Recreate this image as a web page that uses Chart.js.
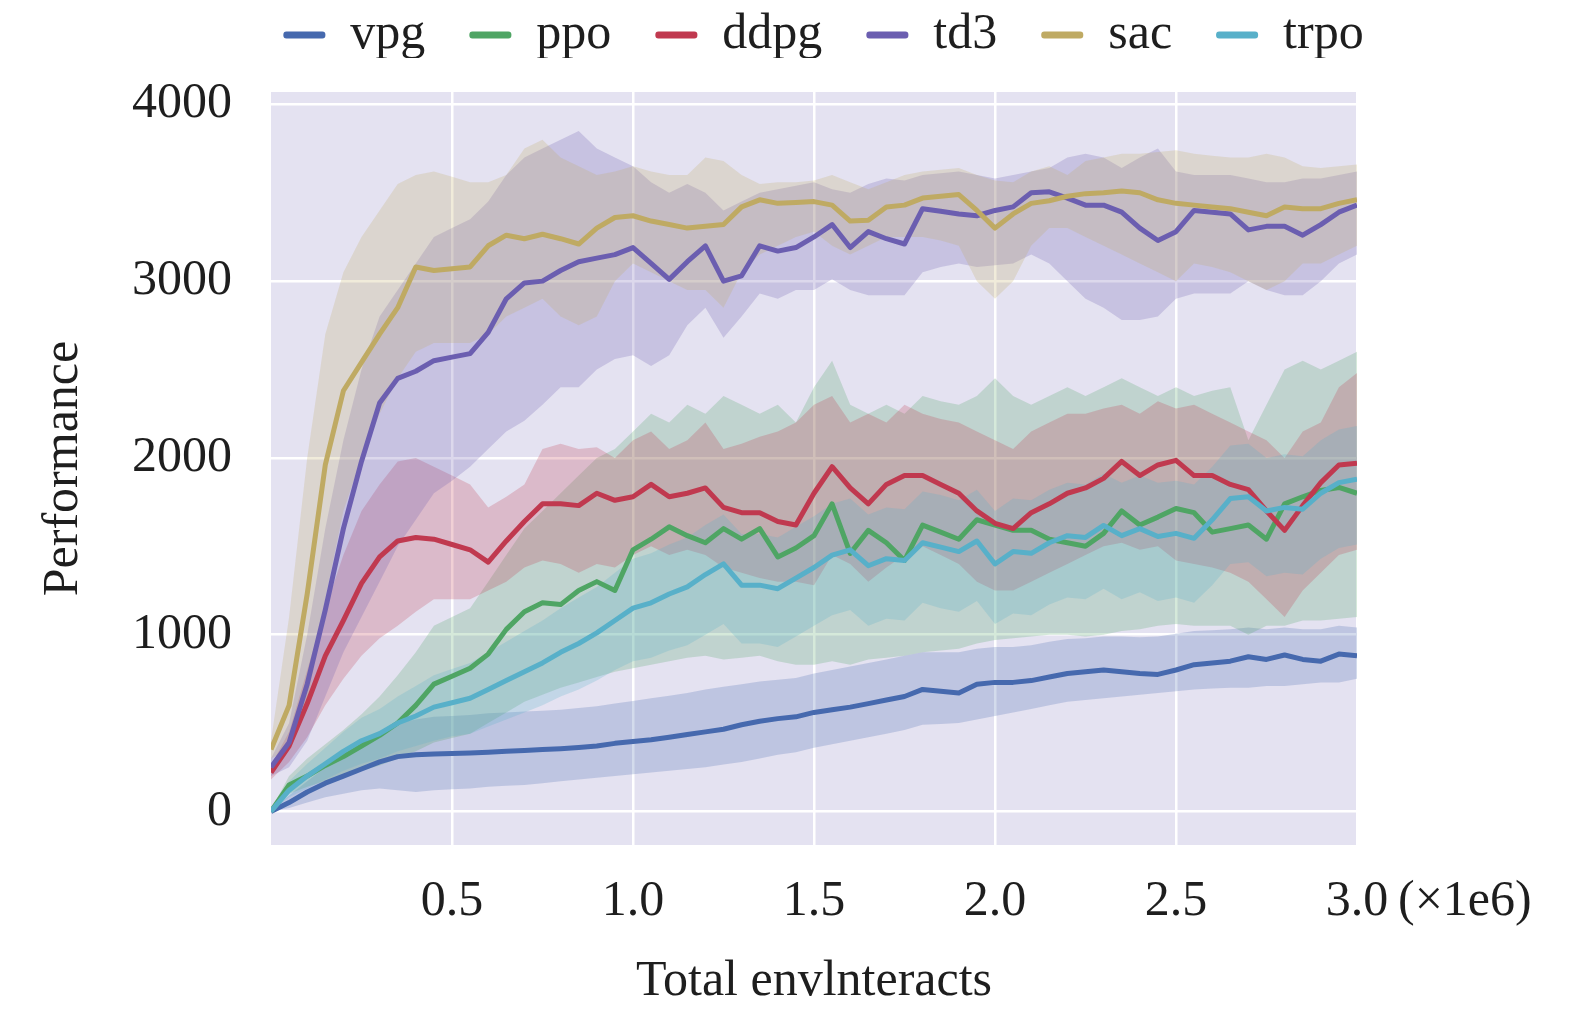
<!DOCTYPE html>
<html lang="en">
  <head>
    <meta charset="UTF-8" />
    <title>Performance</title>
    <style>
      body {
        margin: 0;
        background: #ffffff;
      }
      .plot {
        width: 1575px;
        height: 1018px;
      }
    </style>
  </head>
  <body>
    <div class="plot">
      <canvas id="mychart" width="1575" height="1018"></canvas>
    </div>

    <script src="https://cdn.jsdelivr.net/npm/chart.js@4.4.1/dist/chart.umd.min.js"></script>
    <script>
      // x axis, in units of 1e6 interactions
      const steps = [
        0, 0.05, 0.1, 0.15, 0.2, 0.25, 0.3, 0.35, 0.4, 0.45,
        0.5, 0.55, 0.6, 0.65, 0.7, 0.75, 0.8, 0.85, 0.9, 0.95,
        1.0, 1.05, 1.1, 1.15, 1.2, 1.25, 1.3, 1.35, 1.4, 1.45,
        1.5, 1.55, 1.6, 1.65, 1.7, 1.75, 1.8, 1.85, 1.9, 1.95,
        2.0, 2.05, 2.1, 2.15, 2.2, 2.25, 2.3, 2.35, 2.4, 2.45,
        2.5, 2.55, 2.6, 2.65, 2.7, 2.75, 2.8, 2.85, 2.9, 2.95,
        3.0,
      ];
      const xTicks = [0, 0.5, 1.0, 1.5, 2.0, 2.5, 3.0];
      const yTicks = [0, 1000, 2000, 3000, 4000];
      const algos = ["vpg", "ppo", "ddpg", "td3", "sac", "trpo"];

      // vpg
      const vpgMean = [
        0, 50, 110, 160, 200, 240, 280, 310, 320, 325,
        327, 330, 335, 340, 345, 350, 355, 362, 370, 385,
        395, 405, 420, 435, 450, 465, 490, 510, 525, 535,
        560, 575, 590, 610, 630, 650, 690, 680, 670, 720,
        730, 730, 740, 760, 780, 790, 800, 790, 780, 775,
        800, 830, 840, 850, 875, 860, 885, 860, 850, 890,
        880,
      ];
      const vpgUpper = [
        10, 90, 170, 250, 320, 390, 450, 500, 520, 535,
        540, 545, 555, 560, 565, 570, 575, 585, 595, 610,
        625, 640, 655, 670, 690, 705, 720, 735, 745, 755,
        780, 800, 820, 840, 860, 880, 900, 900, 900, 920,
        930, 930, 940, 960, 975, 980, 990, 990, 985, 990,
        1005, 1020, 1025, 1030, 1040, 1030, 1040, 1030, 1030, 1050,
        1040,
      ];
      const vpgLower = [
        0, 20, 50, 80, 100, 120, 130, 120, 110, 120,
        125, 130, 140, 145, 150, 160, 170, 180, 190, 200,
        210, 220, 230, 240, 250, 265, 280, 300, 320, 335,
        360, 380, 400, 420, 440, 460, 490, 495, 500, 520,
        540, 560, 580, 600, 620, 630, 640, 650, 660, 670,
        680, 690, 695, 700, 700, 710, 710, 720, 730, 730,
        750,
      ];

      // ppo
      const ppoMean = [
        0, 150, 200, 260, 310, 370, 430, 500, 600, 720,
        765, 810, 890, 1030, 1130, 1180, 1170, 1250, 1300, 1250,
        1480, 1540, 1610, 1560, 1520, 1600, 1540, 1600, 1440, 1490,
        1560, 1740, 1460, 1590, 1520, 1420, 1620, 1580, 1540, 1650,
        1620, 1590, 1590, 1540, 1520, 1500, 1573, 1700, 1620, 1665,
        1714, 1690, 1580, 1600, 1620, 1540, 1740, 1780, 1816, 1833,
        1800,
      ];
      const ppoUpper = [
        10, 200, 300, 380, 460, 550, 650, 770, 900, 1050,
        1100, 1150, 1300, 1450, 1600, 1700, 1800, 1900, 2000, 2050,
        2150, 2250, 2200, 2300, 2250, 2350, 2300, 2250, 2300, 2200,
        2400, 2550, 2300, 2250, 2300, 2250, 2350, 2320, 2300, 2350,
        2450, 2350, 2300, 2350, 2400, 2350, 2400, 2450, 2400, 2350,
        2400, 2350, 2380, 2400, 2100, 2300, 2500, 2550, 2500, 2550,
        2600,
      ];
      const ppoLower = [
        0, 100, 140, 170, 200, 230, 260, 300, 340, 390,
        415, 440, 500, 560, 620, 660, 700, 730, 760, 790,
        810, 830, 850, 870, 880, 860, 870, 880, 850, 830,
        830, 850, 830, 860, 870, 880, 900, 910, 920, 950,
        970, 980, 990, 1000, 1000, 990, 1000, 1020, 1030, 1050,
        1060, 1050, 1050, 1050, 1000, 1050, 1050, 1080, 1080, 1090,
        1100,
      ];

      // ddpg
      const ddpgMean = [
        220, 370, 610, 880, 1080, 1290, 1440, 1530, 1550, 1540,
        1510, 1480, 1410, 1530, 1640, 1740, 1740, 1730, 1800, 1760,
        1780, 1850, 1780, 1800, 1830, 1720, 1690, 1690, 1640, 1620,
        1800, 1950, 1830, 1740, 1850, 1900, 1900, 1850, 1800, 1700,
        1630, 1600, 1690, 1740, 1800, 1830, 1884, 1980, 1900, 1960,
        1986, 1900, 1900, 1850, 1820, 1700, 1590, 1730, 1860, 1960,
        1970,
      ];
      const ddpgUpper = [
        260, 450, 800, 1150, 1450, 1700, 1850, 1980, 2000, 1950,
        1900, 1850, 1720, 1780, 1850, 2050, 2080, 2050, 2060, 2000,
        2100, 2150, 2050, 2100, 2200, 2050, 2080, 2120, 2150, 2200,
        2300, 2350, 2200, 2250, 2200, 2300, 2250, 2220, 2200, 2150,
        2100, 2050, 2150, 2200, 2250, 2250, 2280, 2300, 2250, 2320,
        2280, 2300, 2250, 2200, 2150, 2100, 2000, 2150, 2200, 2400,
        2480,
      ];
      const ddpgLower = [
        180, 280, 420, 600, 750, 880, 980, 1050, 1130, 1200,
        1200, 1200, 1250, 1300, 1380, 1420, 1400, 1350, 1400, 1380,
        1450, 1500, 1450, 1480, 1450, 1380, 1350, 1320, 1300, 1300,
        1280, 1450, 1400, 1300, 1380, 1450, 1500, 1450, 1400, 1300,
        1250, 1250, 1300, 1350, 1400, 1450, 1500, 1520, 1480, 1500,
        1420, 1400, 1380, 1350, 1300, 1200, 1100, 1250, 1350, 1450,
        1480,
      ];

      // td3
      const td3Mean = [
        250, 390, 720, 1140, 1600, 1980, 2310, 2450, 2490, 2550,
        2570, 2590, 2710, 2900, 2990, 3000, 3060, 3110, 3130, 3150,
        3190, 3100, 3010, 3110, 3200, 3000, 3030, 3200, 3170, 3190,
        3250, 3320, 3190, 3280, 3240, 3210, 3410, 3395, 3380, 3370,
        3400, 3420, 3500, 3505, 3470, 3430, 3430, 3390, 3300, 3230,
        3280, 3400, 3390, 3380, 3290, 3310, 3310, 3260, 3320, 3390,
        3430,
      ];
      const td3Upper = [
        300, 500, 1000, 1600, 2100, 2500, 2800, 2950, 3100, 3250,
        3300, 3350, 3450, 3600, 3700, 3750, 3800, 3850, 3750, 3700,
        3650, 3560, 3500, 3550, 3500, 3400, 3450, 3500, 3520, 3540,
        3560, 3520, 3500, 3550, 3580, 3570, 3600, 3610, 3620, 3600,
        3580, 3600, 3620, 3640, 3700, 3720, 3700, 3640, 3700, 3750,
        3620, 3600, 3600, 3600, 3580, 3560, 3560, 3580, 3580, 3600,
        3620,
      ];
      const td3Lower = [
        200, 250, 400, 650, 900, 1100, 1300, 1500, 1650, 1800,
        1870, 1950, 2050, 2150, 2210, 2300, 2400, 2400, 2500, 2560,
        2580, 2520, 2580, 2750, 2850, 2680, 2800, 2930, 2900, 2950,
        2950, 3010, 2950, 2920, 2920, 2920, 3050, 3080, 3100, 3080,
        3090, 3100, 3150, 3100, 3000, 2900, 2850, 2780, 2780, 2800,
        2900, 2930, 2930, 2930, 3000, 2950, 2920, 2920, 3000, 3100,
        3150,
      ];

      // sac
      const sacMean = [
        350, 600, 1230, 1960, 2380, 2540, 2700, 2850, 3080, 3060,
        3070, 3080, 3200, 3260, 3240, 3265, 3240, 3210, 3300, 3360,
        3370, 3340, 3320, 3300, 3310, 3320, 3420, 3460, 3440, 3445,
        3450, 3430, 3340, 3345, 3420, 3430, 3470, 3480, 3490, 3400,
        3300, 3380, 3440, 3455, 3480, 3495, 3500, 3510, 3500, 3460,
        3440, 3430, 3420, 3410, 3390, 3370, 3420, 3410, 3410, 3440,
        3460,
      ];
      const sacUpper = [
        400, 1100, 2000, 2700, 3050, 3250, 3400, 3550, 3600, 3620,
        3590, 3560, 3560, 3600, 3750, 3800, 3700, 3650, 3600, 3620,
        3650, 3620, 3600, 3600, 3700, 3680, 3600, 3550, 3560, 3560,
        3570, 3600, 3560, 3520, 3560, 3600, 3620, 3630, 3640, 3600,
        3570, 3560, 3620, 3650, 3600, 3680, 3700, 3720, 3720, 3730,
        3740, 3720, 3710, 3700, 3700, 3720, 3700, 3650, 3640, 3650,
        3660,
      ];
      const sacLower = [
        300, 350, 600, 1200, 1700, 2000, 2250, 2450, 2600, 2650,
        2650, 2650, 2700, 2800, 2850, 2900, 2800, 2750, 2800, 3000,
        3100, 3050, 3000, 2950, 2950, 2850, 3050, 3150, 3200, 3250,
        3280, 3200, 3150, 3200, 3250, 3250, 3250, 3230, 3200, 3000,
        2900, 3000, 3200, 3300, 3300, 3250, 3200, 3150, 3100, 3050,
        3000, 3100, 3080, 3050, 3000, 2950, 3000, 3100, 3100, 3150,
        3200,
      ];

      // trpo
      const trpoMean = [
        0, 120, 200, 270, 340, 400, 440, 500, 540, 590,
        615, 640, 690, 740, 790, 840, 900, 950, 1010, 1080,
        1150, 1180, 1230, 1270, 1340, 1400, 1280, 1280, 1260, 1320,
        1380, 1450, 1480, 1390, 1430, 1420, 1520, 1495, 1470, 1530,
        1400, 1470, 1460, 1520, 1560, 1550, 1618, 1560, 1600, 1555,
        1573, 1545, 1650, 1770, 1780, 1700, 1720, 1710, 1800, 1860,
        1880,
      ];
      const trpoUpper = [
        10, 170, 270, 360, 450, 530, 580, 650, 710, 770,
        805, 840, 900, 960, 1020, 1080, 1150, 1210, 1270, 1350,
        1430, 1460, 1510, 1550, 1620, 1680, 1570, 1570, 1550, 1610,
        1670, 1740, 1770, 1680, 1720, 1710, 1810, 1790, 1760, 1820,
        1700, 1770, 1760, 1820, 1860, 1850, 1910, 1860, 1900, 1860,
        1870, 1850, 1950, 2070, 2080, 2000, 2020, 2010, 2100, 2160,
        2180,
      ];
      const trpoLower = [
        0, 80, 130, 180, 230, 270, 300, 340, 370, 400,
        425, 440, 480, 520, 560, 600, 650, 690, 740, 800,
        850, 870, 910, 940, 1000, 1060, 950, 950, 930, 990,
        1050, 1110, 1140, 1050, 1090, 1080, 1180, 1150, 1130, 1190,
        1060, 1120, 1110, 1170, 1210, 1200, 1260, 1200, 1240, 1190,
        1210, 1180, 1280, 1400, 1410, 1330, 1350, 1340, 1430, 1490,
        1510,
      ];

      const colors = ["#4669ae", "#4fa564", "#c0394f", "#6b5eb0", "#bfaa63", "#58b0c9"];
      const means = [vpgMean, ppoMean, ddpgMean, td3Mean, sacMean, trpoMean];
      const uppers = [vpgUpper, ppoUpper, ddpgUpper, td3Upper, sacUpper, trpoUpper];
      const lowers = [vpgLower, ppoLower, ddpgLower, td3Lower, sacLower, trpoLower];

      const serif = "'Liberation Serif', 'Times New Roman', serif";
      const textColor = "#1e1e1e";

      function rgba(hex, a) {
        const n = parseInt(hex.slice(1), 16);
        return "rgba(" + (n >> 16) + "," + ((n >> 8) & 255) + "," + (n & 255) + "," + a + ")";
      }
      function points(arr) {
        return steps.map((s, i) => ({ x: s, y: arr[i] }));
      }

      //평균선 먼저 (범례에 쓰임)
      const datasets = [];
      algos.forEach((name, i) => {
        datasets.push({
          label: name,
          data: points(means[i]),
          borderColor: colors[i],
          backgroundColor: colors[i],
          borderWidth: 5,
          borderJoinStyle: "round",
          pointRadius: 0,
          fill: false,
          order: 5 - i,
        });
      });
      //표준편차 영역: upper -> lower 로 채우기
      algos.forEach((name, i) => {
        datasets.push({
          label: name + "_upper",
          data: points(uppers[i]),
          borderWidth: 0,
          borderColor: "rgba(0,0,0,0)",
          backgroundColor: rgba(colors[i], 0.24),
          pointRadius: 0,
          fill: "+1",
          order: 20 - i * 2,
        });
        datasets.push({
          label: name + "_lower",
          data: points(lowers[i]),
          borderWidth: 0,
          borderColor: "rgba(0,0,0,0)",
          backgroundColor: "rgba(0,0,0,0)",
          pointRadius: 0,
          fill: false,
          order: 20 - i * 2,
        });
      });

      const plotBackground = {
        id: "plotBackground",
        beforeDraw(chart) {
          const { ctx, chartArea } = chart;
          ctx.save();
          ctx.fillStyle = "#e4e2f1";
          ctx.fillRect(chartArea.left, chartArea.top, chartArea.width, chartArea.height);
          ctx.restore();
        },
      };

      //범례 위치 조정 (축 위 가운데)
      const legendShift = {
        id: "legendShift",
        beforeUpdate(chart) {
          const legend = chart.legend;
          if (legend && !legend._patched) {
            const fit = legend.fit;
            legend.fit = function () {
              fit.call(this);
              this.height = 92;
            };
            legend._patched = true;
          }
        },
        afterLayout(chart) {
          const legend = chart.legend;
          legend.top -= 34;
          legend.bottom -= 34;
          legend.left += 145;
          legend.right += 145;
        },
      };

      const scaleNote = {
        id: "scaleNote",
        afterDraw(chart) {
          const { ctx, chartArea } = chart;
          ctx.save();
          ctx.font = "50px " + serif;
          ctx.fillStyle = textColor;
          ctx.textAlign = "left";
          ctx.textBaseline = "middle";
          ctx.fillText("(\u00d71e6)", 1398, chartArea.bottom + 27 + 30);
          ctx.restore();
        },
      };

      new Chart(document.getElementById("mychart"), {
        type: "line",
        data: { datasets: datasets },
        plugins: [plotBackground, legendShift, scaleNote],
        options: {
          responsive: false,
          devicePixelRatio: 1,
          animation: false,
          layout: { padding: { left: 0, right: 218, top: 0, bottom: 0 } },
          plugins: {
            tooltip: { enabled: false },
            legend: {
              position: "top",
              labels: {
                font: { family: serif, size: 50 },
                color: textColor,
                boxWidth: 42,
                boxHeight: 7,
                padding: 44,
                useBorderRadius: true,
                borderRadius: 3,
                generateLabels(chart) {
                  return algos.map((name, i) => ({
                    text: name,
                    fillStyle: colors[i],
                    strokeStyle: colors[i],
                    lineWidth: 0,
                    fontColor: textColor,
                    borderRadius: 3,
                    datasetIndex: i,
                  }));
                },
              },
            },
          },
          scales: {
            x: {
              type: "linear",
              min: 0,
              max: 3.0,
              afterBuildTicks(scale) {
                scale.ticks = xTicks.map((v) => ({ value: v }));
              },
              afterFit(scale) {
                scale.height = 173;
              },
              border: { display: false },
              grid: {
                drawTicks: false,
                lineWidth: 2.5,
                color: (c) => (c.tick && c.tick.value === 0 ? "rgba(0,0,0,0)" : "#ffffff"),
              },
              ticks: {
                padding: 27,
                maxRotation: 0,
                autoSkip: false,
                color: textColor,
                font: { family: serif, size: 50 },
                callback: (v) => (v === 0 ? "" : Number(v).toFixed(1)),
              },
              title: {
                display: true,
                text: "Total envlnteracts",
                color: textColor,
                font: { family: serif, size: 50 },
                padding: { top: 0, bottom: 6 },
              },
            },
            y: {
              min: -190,
              max: 4070,
              afterBuildTicks(scale) {
                scale.ticks = yTicks.map((v) => ({ value: v }));
              },
              afterFit(scale) {
                scale.width = 271;
              },
              border: { display: false },
              grid: {
                drawTicks: false,
                lineWidth: 2.5,
                color: "#ffffff",
              },
              ticks: {
                padding: 39,
                color: textColor,
                font: { family: serif, size: 50 },
                callback: (v) => String(v),
              },
              title: {
                display: true,
                text: "Performance",
                color: textColor,
                font: { family: serif, size: 50 },
                padding: { top: 34, bottom: 0 },
              },
            },
          },
        },
      });
    </script>
  </body>
</html>
